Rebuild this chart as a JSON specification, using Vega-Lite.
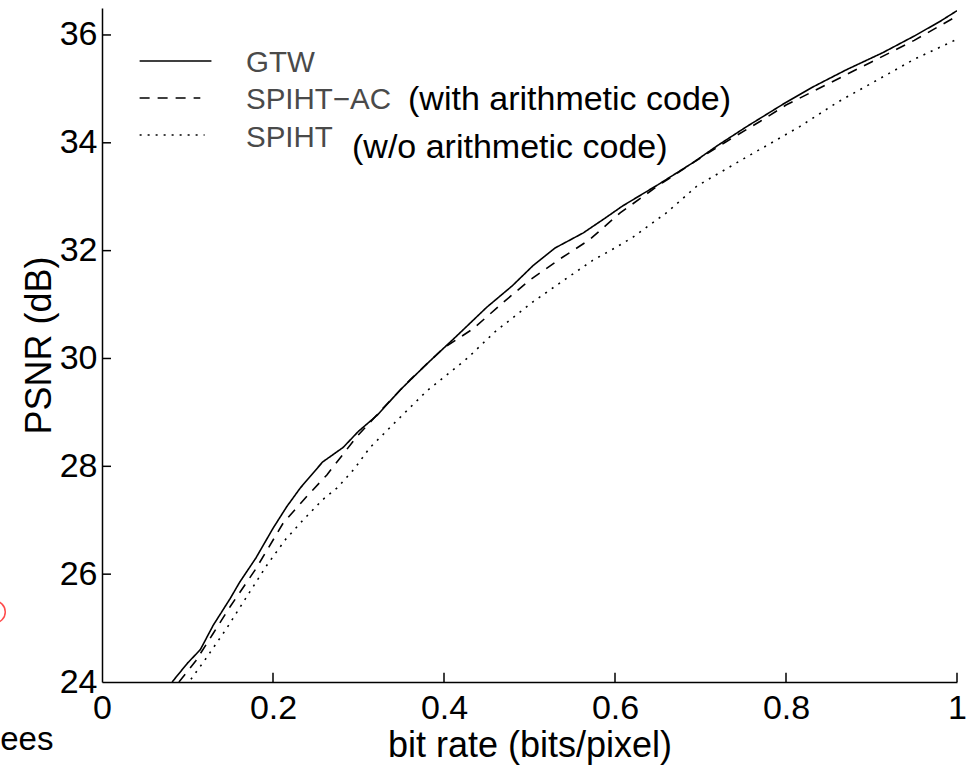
{
  "$schema": "https://vega.github.io/schema/vega-lite/v6.json",
  "width": 855,
  "height": 674,
  "autosize": {"type": "none"},
  "padding": {"left": 102, "top": 8, "right": 9, "bottom": 85},
  "background": "white",
  "config": {
    "view": {"stroke": null},
    "font": "Liberation Sans",
    "axis": {
      "grid": false,
      "ticks": false,
      "domainColor": "black",
      "domainWidth": 1.5,
      "labelColor": "black",
      "labelFont": "Liberation Sans",
      "labelFontSize": 34,
      "titleFont": "Liberation Sans",
      "titleFontSize": 36,
      "titleFontWeight": "normal",
      "titleColor": "black"
    }
  },
  "datasets": {
    "curves": [
      {"series": "GTW", "rate": 0.082, "psnr": 24.0},
      {"series": "GTW", "rate": 0.10, "psnr": 24.35},
      {"series": "GTW", "rate": 0.115, "psnr": 24.6},
      {"series": "GTW", "rate": 0.13, "psnr": 25.05},
      {"series": "GTW", "rate": 0.15, "psnr": 25.55},
      {"series": "GTW", "rate": 0.161, "psnr": 25.85},
      {"series": "GTW", "rate": 0.18, "psnr": 26.3},
      {"series": "GTW", "rate": 0.20, "psnr": 26.85},
      {"series": "GTW", "rate": 0.216, "psnr": 27.25},
      {"series": "GTW", "rate": 0.232, "psnr": 27.6},
      {"series": "GTW", "rate": 0.258, "psnr": 28.08},
      {"series": "GTW", "rate": 0.282, "psnr": 28.35},
      {"series": "GTW", "rate": 0.30, "psnr": 28.65},
      {"series": "GTW", "rate": 0.322, "psnr": 28.95},
      {"series": "GTW", "rate": 0.349, "psnr": 29.42},
      {"series": "GTW", "rate": 0.38, "psnr": 29.9},
      {"series": "GTW", "rate": 0.415, "psnr": 30.42},
      {"series": "GTW", "rate": 0.45, "psnr": 30.95},
      {"series": "GTW", "rate": 0.48, "psnr": 31.35},
      {"series": "GTW", "rate": 0.504, "psnr": 31.72},
      {"series": "GTW", "rate": 0.53, "psnr": 32.05},
      {"series": "GTW", "rate": 0.563, "psnr": 32.33},
      {"series": "GTW", "rate": 0.59, "psnr": 32.62},
      {"series": "GTW", "rate": 0.609, "psnr": 32.83},
      {"series": "GTW", "rate": 0.65, "psnr": 33.22},
      {"series": "GTW", "rate": 0.691, "psnr": 33.63},
      {"series": "GTW", "rate": 0.72, "psnr": 33.95},
      {"series": "GTW", "rate": 0.754, "psnr": 34.3},
      {"series": "GTW", "rate": 0.80, "psnr": 34.75},
      {"series": "GTW", "rate": 0.832, "psnr": 35.04},
      {"series": "GTW", "rate": 0.87, "psnr": 35.35},
      {"series": "GTW", "rate": 0.913, "psnr": 35.67},
      {"series": "GTW", "rate": 0.95, "psnr": 35.98},
      {"series": "GTW", "rate": 0.98, "psnr": 36.25},
      {"series": "GTW", "rate": 1.0, "psnr": 36.45},
      {"series": "SPIHT-AC", "rate": 0.090, "psnr": 24.0},
      {"series": "SPIHT-AC", "rate": 0.11, "psnr": 24.4},
      {"series": "SPIHT-AC", "rate": 0.13, "psnr": 24.9},
      {"series": "SPIHT-AC", "rate": 0.15, "psnr": 25.4},
      {"series": "SPIHT-AC", "rate": 0.18, "psnr": 26.1},
      {"series": "SPIHT-AC", "rate": 0.212, "psnr": 26.95},
      {"series": "SPIHT-AC", "rate": 0.24, "psnr": 27.45},
      {"series": "SPIHT-AC", "rate": 0.263, "psnr": 27.84},
      {"series": "SPIHT-AC", "rate": 0.298, "psnr": 28.55},
      {"series": "SPIHT-AC", "rate": 0.33, "psnr": 29.1},
      {"series": "SPIHT-AC", "rate": 0.36, "psnr": 29.6},
      {"series": "SPIHT-AC", "rate": 0.40, "psnr": 30.2},
      {"series": "SPIHT-AC", "rate": 0.434, "psnr": 30.55},
      {"series": "SPIHT-AC", "rate": 0.47, "psnr": 31.05},
      {"series": "SPIHT-AC", "rate": 0.50, "psnr": 31.45},
      {"series": "SPIHT-AC", "rate": 0.536, "psnr": 31.85},
      {"series": "SPIHT-AC", "rate": 0.57, "psnr": 32.2},
      {"series": "SPIHT-AC", "rate": 0.606, "psnr": 32.7},
      {"series": "SPIHT-AC", "rate": 0.65, "psnr": 33.2},
      {"series": "SPIHT-AC", "rate": 0.70, "psnr": 33.72},
      {"series": "SPIHT-AC", "rate": 0.73, "psnr": 34.02},
      {"series": "SPIHT-AC", "rate": 0.77, "psnr": 34.4},
      {"series": "SPIHT-AC", "rate": 0.80, "psnr": 34.7},
      {"series": "SPIHT-AC", "rate": 0.85, "psnr": 35.1},
      {"series": "SPIHT-AC", "rate": 0.90, "psnr": 35.5},
      {"series": "SPIHT-AC", "rate": 0.95, "psnr": 35.9},
      {"series": "SPIHT-AC", "rate": 1.0, "psnr": 36.35},
      {"series": "SPIHT", "rate": 0.104, "psnr": 24.05},
      {"series": "SPIHT", "rate": 0.12, "psnr": 24.4},
      {"series": "SPIHT", "rate": 0.146, "psnr": 25.0},
      {"series": "SPIHT", "rate": 0.17, "psnr": 25.6},
      {"series": "SPIHT", "rate": 0.193, "psnr": 26.17},
      {"series": "SPIHT", "rate": 0.215, "psnr": 26.65},
      {"series": "SPIHT", "rate": 0.235, "psnr": 27.0},
      {"series": "SPIHT", "rate": 0.258, "psnr": 27.38},
      {"series": "SPIHT", "rate": 0.275, "psnr": 27.6},
      {"series": "SPIHT", "rate": 0.295, "psnr": 27.95},
      {"series": "SPIHT", "rate": 0.313, "psnr": 28.34},
      {"series": "SPIHT", "rate": 0.345, "psnr": 28.85},
      {"series": "SPIHT", "rate": 0.38, "psnr": 29.4},
      {"series": "SPIHT", "rate": 0.427, "psnr": 30.0},
      {"series": "SPIHT", "rate": 0.46, "psnr": 30.5},
      {"series": "SPIHT", "rate": 0.504, "psnr": 31.05},
      {"series": "SPIHT", "rate": 0.54, "psnr": 31.45},
      {"series": "SPIHT", "rate": 0.574, "psnr": 31.82},
      {"series": "SPIHT", "rate": 0.60, "psnr": 32.05},
      {"series": "SPIHT", "rate": 0.621, "psnr": 32.25},
      {"series": "SPIHT", "rate": 0.66, "psnr": 32.7},
      {"series": "SPIHT", "rate": 0.696, "psnr": 33.2},
      {"series": "SPIHT", "rate": 0.75, "psnr": 33.7},
      {"series": "SPIHT", "rate": 0.816, "psnr": 34.3},
      {"series": "SPIHT", "rate": 0.86, "psnr": 34.75},
      {"series": "SPIHT", "rate": 0.913, "psnr": 35.22},
      {"series": "SPIHT", "rate": 0.95, "psnr": 35.55},
      {"series": "SPIHT", "rate": 1.0, "psnr": 35.92}
    ],
    "xticks": [{"v": 0.2}, {"v": 0.4}, {"v": 0.6}, {"v": 0.8}, {"v": 1.0}],
    "yticks": [{"v": 26}, {"v": 28}, {"v": 30}, {"v": 32}, {"v": 34}, {"v": 36}],
    "legendLines": [
      {"series": "GTW", "x1": 0.044, "x2": 0.128, "y": 35.517},
      {"series": "SPIHT-AC", "x1": 0.044, "x2": 0.115, "y": 34.831},
      {"series": "SPIHT", "x1": 0.044, "x2": 0.12, "y": 34.145}
    ],
    "legendText": [
      {"label": "GTW", "x": 0.1684, "y": 35.313},
      {"label": "SPIHT−AC", "x": 0.1684, "y": 34.627},
      {"label": "SPIHT", "x": 0.1684, "y": 33.922}
    ],
    "notes": [
      {"label": "(with arithmetic code)", "x": 0.3579, "y": 34.608},
      {"label": "(w/o arithmetic code)", "x": 0.2924, "y": 33.718}
    ],
    "stray": [
      {"label": "ees", "x": -0.119, "y": 22.74}
    ],
    "strayMark": [
      {"x": -0.126, "y": 25.3}
    ]
  },
  "layer": [
    {
      "data": {"name": "curves"},
      "mark": {"type": "line", "color": "black", "strokeWidth": 1.6, "clip": true},
      "encoding": {
        "x": {
          "field": "rate", "type": "quantitative",
          "scale": {"domain": [0, 1], "nice": false, "zero": false},
          "axis": {"values": [0, 0.2, 0.4, 0.6, 0.8, 1], "format": "~g", "title": "bit rate (bits/pixel)", "labelPadding": 9, "titlePadding": 3, "labelFlush": false}
        },
        "y": {
          "field": "psnr", "type": "quantitative",
          "scale": {"domain": [24, 36.5], "nice": false, "zero": false},
          "axis": {"values": [24, 26, 28, 30, 32, 34, 36], "title": "PSNR (dB)", "labelPadding": 5, "titlePadding": 1, "labelFlush": false}
        },
        "strokeDash": {
          "field": "series", "type": "nominal",
          "scale": {"domain": ["GTW", "SPIHT-AC", "SPIHT"], "range": [[1, 0], [10, 8], [2, 6]]},
          "legend": null
        },
        "detail": {"field": "series"}
      }
    },
    {
      "data": {"name": "xticks"},
      "mark": {"type": "rule", "color": "black", "strokeWidth": 1.5},
      "encoding": {
        "x": {"field": "v", "type": "quantitative"},
        "y": {"datum": 24},
        "y2": {"datum": 24.17}
      }
    },
    {
      "data": {"name": "yticks"},
      "mark": {"type": "rule", "color": "black", "strokeWidth": 1.5},
      "encoding": {
        "y": {"field": "v", "type": "quantitative"},
        "x": {"datum": 0},
        "x2": {"datum": 0.0105}
      }
    },
    {
      "data": {"name": "legendLines"},
      "mark": {"type": "rule", "color": "black", "strokeWidth": 1.6},
      "encoding": {
        "x": {"field": "x1", "type": "quantitative"},
        "x2": {"field": "x2"},
        "y": {"field": "y", "type": "quantitative"},
        "strokeDash": {
          "field": "series", "type": "nominal",
          "scale": {"domain": ["GTW", "SPIHT-AC", "SPIHT"], "range": [[1, 0], [10, 8], [2, 6]]},
          "legend": null
        }
      }
    },
    {
      "data": {"name": "legendText"},
      "mark": {"type": "text", "align": "left", "baseline": "alphabetic", "fontSize": 29.5, "font": "Liberation Sans", "color": "#4a4a4a"},
      "encoding": {
        "x": {"field": "x", "type": "quantitative"},
        "y": {"field": "y", "type": "quantitative"},
        "text": {"field": "label"}
      }
    },
    {
      "data": {"name": "notes"},
      "mark": {"type": "text", "align": "left", "baseline": "alphabetic", "fontSize": 34, "font": "Liberation Sans", "color": "black"},
      "encoding": {
        "x": {"field": "x", "type": "quantitative"},
        "y": {"field": "y", "type": "quantitative"},
        "text": {"field": "label"}
      }
    },
    {
      "data": {"name": "stray"},
      "mark": {"type": "text", "align": "left", "baseline": "alphabetic", "fontSize": 33, "font": "Liberation Sans", "color": "black", "clip": false},
      "encoding": {
        "x": {"field": "x", "type": "quantitative"},
        "y": {"field": "y", "type": "quantitative"},
        "text": {"field": "label"}
      }
    },
    {
      "data": {"name": "strayMark"},
      "mark": {"type": "point", "shape": "circle", "filled": false, "stroke": "red", "strokeWidth": 1.5, "size": 484, "clip": false},
      "encoding": {
        "x": {"field": "x", "type": "quantitative"},
        "y": {"field": "y", "type": "quantitative"}
      }
    }
  ]
}
